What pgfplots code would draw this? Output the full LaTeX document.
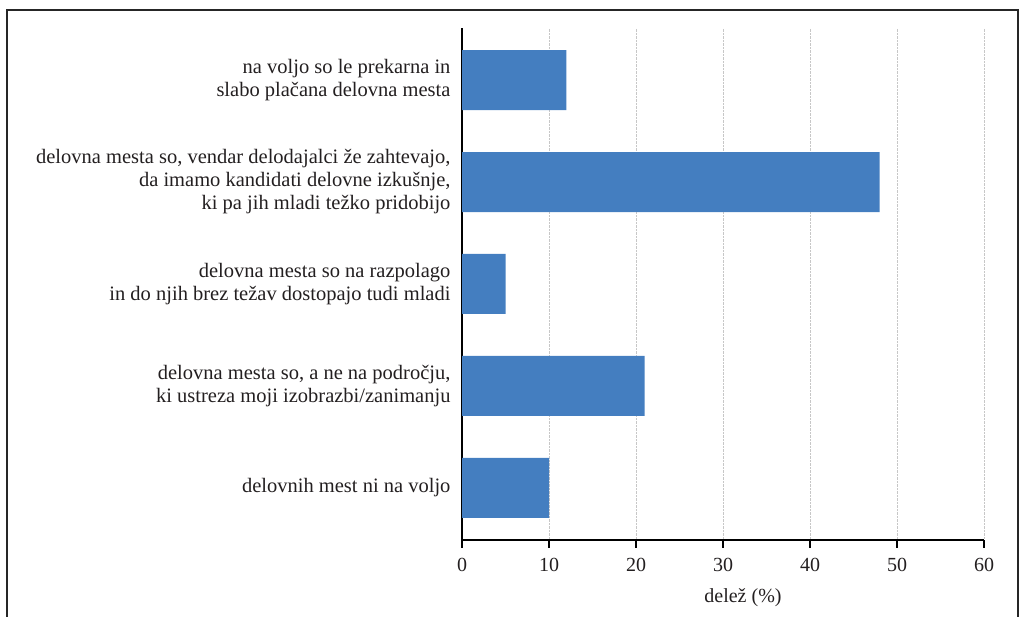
\documentclass[border=0pt]{standalone}
\usepackage{fontspec}
\setmainfont{Liberation Serif}
\usepackage{pgfplots}
\pgfplotsset{compat=1.18}
\definecolor{barblue}{RGB}{68,126,192}
\definecolor{txt}{RGB}{35,31,32}
\begin{document}
\begin{tikzpicture}[x=1pt,y=1pt]
\useasboundingbox (0,0) rectangle (1019,617);
\draw[line width=1.5pt, black!85] (7,0) -- (7,607) -- (1018,607) -- (1018,0);
\begin{axis}[
  at={(462pt,77pt)}, anchor=south west,
  scale only axis, width=522pt, height=512pt,
  xmin=0, xmax=60, ymin=-0.51, ymax=4.51,
  xbar, bar width=60pt,
  axis lines*=left,
  axis line style={line width=1.5pt, black},
  xtick={0,10,20,30,40,50,60},
  ytick={0,1,2,3,4},
  yticklabels={{delovnih mest ni na voljo},
    {delovna mesta so, a ne na področju,\\ki ustreza moji izobrazbi/zanimanju},
    {delovna mesta so na razpolago\\in do njih brez težav dostopajo tudi mladi},
    {delovna mesta so, vendar delodajalci že zahtevajo,\\da imamo kandidati delovne izkušnje,\\ki pa jih mladi težko pridobijo},
    {na voljo so le prekarna in\\slabo plačana delovna mesta}},
  xtick align=outside,
  x tick style={line width=1.5pt, black},
  major tick length=8pt,
  y tick style={draw=none},
  xmajorgrids,
  major grid style={densely dotted, line width=0.8pt, black!22},
  yticklabel style={align=right, font=\fontsize{20.5}{23}\selectfont, text=txt},
  xticklabel style={font=\fontsize{20}{23}\selectfont, text=txt, yshift=-7pt},
  /pgf/number format/assume math mode=true,
  xlabel={delež (\%)},
  xlabel style={font=\fontsize{20}{23}\selectfont, text=txt, xshift=20pt, yshift=-10pt},
]
\addplot[fill=barblue, draw=none] coordinates {(10,0) (21,1) (5,2) (48,3) (12,4)};
\end{axis}
\end{tikzpicture}
\end{document}
